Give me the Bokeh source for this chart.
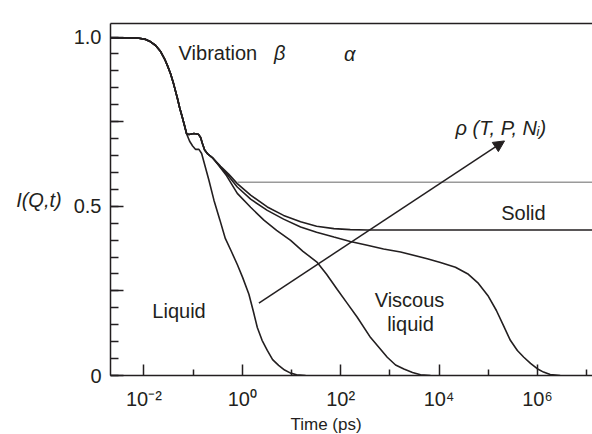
import numpy as np
from bokeh.plotting import figure
from bokeh.models import (Range1d, FixedTicker, CustomJSTickFormatter, LinearAxis,
                          Label, Arrow, NormalHead, Title)
from bokeh.embed import file_html
from bokeh.resources import INLINE

# ---------------- data (log10 time in ps, intensity I(Q,t)) ----------------
common_logt = [-2.68, -2.13, -1.965, -1.864, -1.762, -1.661, -1.579, -1.518, -1.457,
               -1.396, -1.321, -1.274, -1.220, -1.173, -1.132]
common_I = [0.998, 0.997, 0.993, 0.986, 0.975, 0.957, 0.935, 0.914, 0.891,
            0.861, 0.820, 0.791, 0.763, 0.737, 0.714]

# liquid branch (separates right after the vibrational drop)
liquid_logt = [-1.071, -1.010, -0.949, -0.882, -0.827, -0.780, -0.679, -0.577, -0.455,
               -0.346, -0.224, -0.102, 0.006, 0.134, 0.220, 0.305, 0.402, 0.508,
               0.616, 0.738, 0.860, 0.982, 1.104, 1.287]
liquid_I = [0.692, 0.678, 0.668, 0.668, 0.656, 0.631, 0.577, 0.518, 0.459,
            0.405, 0.367, 0.328, 0.290, 0.240, 0.192, 0.142, 0.104, 0.074,
            0.047, 0.030, 0.016, 0.007, 0.002, 0.0]

# beta wiggle shared by the slower curves
bump_logt = [-1.085, -0.984, -0.894, -0.848, -0.813, -0.766, -0.699, -0.610]
bump_I = [0.712, 0.715, 0.713, 0.703, 0.686, 0.666, 0.654, 0.644]

# intermediate curve (decays near 10^3.5 ps)
mid_logt = [-0.482, -0.319, -0.102, 0.169, 0.439, 0.697, 0.982, 1.233, 1.524, 1.713,
            1.931, 2.134, 2.337, 2.608, 2.947, 3.116, 3.285, 3.461, 3.624, 3.827]
mid_I = [0.621, 0.590, 0.538, 0.497, 0.459, 0.429, 0.399, 0.367, 0.334, 0.299,
         0.254, 0.213, 0.172, 0.112, 0.054, 0.031, 0.019, 0.009, 0.002, 0.0]

# solid curve (non-ergodic plateau)
solid_logt = [-0.441, -0.278, -0.102, 0.169, 0.508, 0.839, 1.185, 1.510, 1.862,
              2.195, 2.541, 7.12]
solid_I = [0.618, 0.595, 0.567, 0.533, 0.498, 0.473, 0.454, 0.441, 0.434,
           0.431, 0.430, 0.430]

# viscous liquid curve (decays near 10^6 ps)
viscous_logt = [-0.441, -0.278, -0.102, 0.169, 0.508, 0.839, 1.185, 1.510, 1.862,
                2.195, 2.541, 2.872, 3.218, 3.760, 4.028, 4.333, 4.597, 4.801,
                5.003, 5.166, 5.308, 5.450, 5.592, 5.724, 5.860, 5.996, 6.124,
                6.260, 6.463]
viscous_I = [0.615, 0.589, 0.557, 0.521, 0.488, 0.462, 0.439, 0.423, 0.409,
             0.396, 0.385, 0.374, 0.365, 0.345, 0.334, 0.320, 0.299, 0.272,
             0.234, 0.192, 0.148, 0.104, 0.074, 0.054, 0.036, 0.020, 0.010,
             0.003, 0.0]

# grey reference plateau
plateau_logt = [-0.10, 7.12]
plateau_I = [0.571, 0.571]

# arrow rho(T, P, N_i): tail and head (log10 t, I)
arrow_logt = [0.337, 5.331]
arrow_I = [0.214, 0.693]

x_tick_exps = [-2, 0, 2, 4, 6]
x_tick_labels = ["10\u207b\u00b2", "10\u2070", "10\u00b2", "10\u2074", "10\u2076"]
x_minor_exps = [-1, 1, 3, 5, 7]
y_tick_values = [0.0, 0.25, 0.5, 0.75, 1.0]
y_tick_labels = ["0", "", "0.5", "", "1.0"]
y_minor_values = [round(0.05 * i, 2) for i in range(21)]

x_title = "Time (ps)"
y_title = "I(Q,t)"

# text annotations inside the frame: (text, log10 t, I, align, style)
annotations = [
    ("Vibration", -1.295, 0.953, "left", "normal"),
    ("\u03b2", 0.642, 0.953, "left", "italic"),
    ("\u03b1", 2.065, 0.950, "left", "italic"),
    ("\u03c1 (T, P, N\u1d62)", 4.335, 0.731, "left", "italic"),
    ("Solid", 5.264, 0.481, "left", "normal"),
    ("Liquid", -1.829, 0.190, "left", "normal"),
    ("Viscous", 3.40, 0.222, "center", "normal"),
    ("liquid", 3.42, 0.153, "center", "normal"),
]

X_LOG_RANGE = (-2.68, 7.12)
Y_RANGE = (0.0, 1.04)

# ---------------- figure ----------------
FONT = "Liberation Sans"
INK = "#231f20"

p = figure(width=592, height=434, x_axis_type="log",
           x_range=Range1d(10 ** X_LOG_RANGE[0], 10 ** X_LOG_RANGE[1]),
           y_range=Range1d(*Y_RANGE),
           output_backend="svg", toolbar_location=None,
           min_border_left=110, min_border_right=0,
           min_border_top=23, min_border_bottom=59)
p.grid.visible = False
p.outline_line_color = None
p.background_fill_color = "white"
p.border_fill_color = "white"

def t(vals):
    return [10.0 ** v for v in vals]

# curves
p.line(t(common_logt + liquid_logt), common_I + liquid_I, line_color=INK, line_width=1.6)
for bl, bi in [(mid_logt, mid_I), (solid_logt, solid_I), (viscous_logt, viscous_I)]:
    p.line(t(common_logt + bump_logt + bl), common_I + bump_I + bi,
           line_color=INK, line_width=1.6)
p.line(t(plateau_logt), plateau_I, line_color="#9a9a9a", line_width=1.5)

p.add_layout(Arrow(end=NormalHead(size=11, fill_color=INK, line_color=INK),
                   x_start=10 ** arrow_logt[0], y_start=arrow_I[0],
                   x_end=10 ** arrow_logt[1], y_end=arrow_I[1],
                   line_color=INK, line_width=1.5))

# axes
xa = p.xaxis[0]
xa.ticker = FixedTicker(ticks=t(x_tick_exps), minor_ticks=t(x_minor_exps))
xa.formatter = CustomJSTickFormatter(args=dict(exps=x_tick_exps, labs=x_tick_labels), code="""
const e = Math.round(Math.log10(tick));
const i = exps.indexOf(e);
return i >= 0 ? labs[i] : "";
""")
ya = p.yaxis[0]
ya.ticker = FixedTicker(ticks=y_tick_values, minor_ticks=y_minor_values)
ya.formatter = CustomJSTickFormatter(args=dict(vals=y_tick_values, labs=y_tick_labels), code="""
for (let i = 0; i < vals.length; i++) { if (Math.abs(vals[i] - tick) < 1e-9) return labs[i]; }
return "";
""")
for ax in (xa, ya):
    ax.axis_line_color = INK
    ax.axis_line_width = 1.5
    ax.major_tick_line_color = INK
    ax.minor_tick_line_color = INK
    ax.major_tick_line_width = 1.5
    ax.minor_tick_line_width = 1.5
    ax.major_tick_out = 0
    ax.minor_tick_out = 0
    ax.major_label_text_font = FONT
    ax.major_label_text_font_size = "20px"
    ax.major_label_text_color = INK
xa.major_tick_in = 11
xa.minor_tick_in = 6
xa.major_label_standoff = 12
ya.major_tick_in = 13
ya.minor_tick_in = 8
ya.major_label_standoff = 9

ya.axis_label = y_title
ya.axis_label_text_font = FONT
ya.axis_label_text_font_style = "italic"
ya.axis_label_text_font_size = "20px"
ya.axis_label_text_color = INK
ya.axis_label_standoff = 9
try:
    ya.axis_label_orientation = "horizontal"
except Exception:
    pass

top = LinearAxis(ticker=FixedTicker(ticks=[]), axis_line_color=INK, axis_line_width=1.5,
                 major_tick_line_color=None, minor_tick_line_color=None,
                 major_label_standoff=0)
p.add_layout(top, "above")

p.add_layout(Title(text=x_title, align="left", offset=180, standoff=0,
                   text_font=FONT, text_font_size="17px", text_font_style="normal",
                   text_color=INK), "below")

for text, lx, ly, align, style in annotations:
    p.add_layout(Label(x=10 ** lx, y=ly, text=text, text_align=align,
                       text_baseline="alphabetic", text_font=FONT,
                       text_font_style=style, text_font_size="20px", text_color=INK))

open("out.html", "w").write(file_html(p, INLINE))
